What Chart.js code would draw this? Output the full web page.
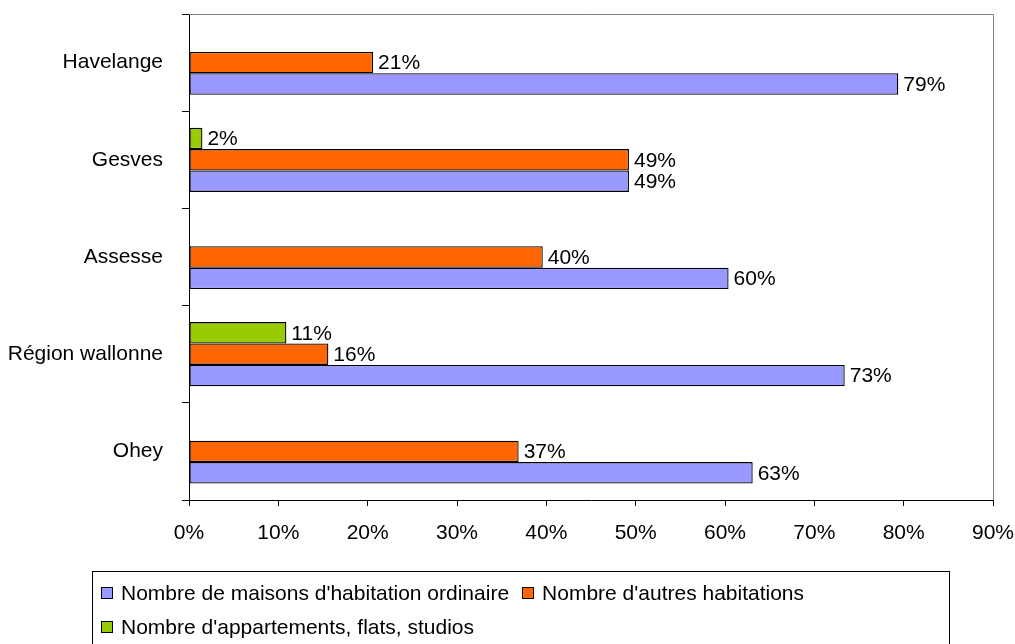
<!DOCTYPE html>
<html>
<head>
<meta charset="utf-8">
<script src="https://cdn.jsdelivr.net/npm/chart.js@4.4.0/dist/chart.umd.min.js"></script>
<style>
    body { margin: 0; background: #fff; font-family: "Liberation Sans", Arial, sans-serif; }
    #wrap { position: relative; width: 1015px; height: 644px; overflow: hidden; }
    #legende {
        position: absolute; left: 92px; top: 571px; width: 858px; height: 80px;
        border: 1px solid #000; box-sizing: border-box; padding-top: 4px;
        font-size: 21px; color: #000;
    }
    .ligne { display: flex; align-items: center; height: 34px; }
    .item { display: flex; align-items: center; margin-left: 8px; margin-right: 5px; }
    .carre { width: 10px; height: 10px; border: 1px solid #000; margin-right: 8px; }
</style>
</head>
<body>
<div id="wrap">
    <canvas id="graphique" width="1015" height="644"></canvas>
    <div id="legende"></div>
</div>
<script>
// Données (en %)
const communes = ['Havelange', 'Gesves', 'Assesse', 'Région wallonne', 'Ohey'];
const maisons = [79.4, 49.25, 60.4, 73.4, 63.1];
const autres = [20.6, 49.25, 39.6, 15.6, 36.9];
const appartements = [0, 1.5, 0, 10.9, 0];
const graduations = [0, 10, 20, 30, 40, 50, 60, 70, 80, 90];

const police = '"Liberation Sans", Arial, sans-serif';

const series = [
    { label: "Nombre de maisons d'habitation ordinaire", data: maisons, couleur: '#9999FF' },
    { label: "Nombre d'autres habitations", data: autres, couleur: '#FF6600' },
    { label: "Nombre d'appartements, flats, studios", data: appartements, couleur: '#99CC00' }
];

// Légende façon Excel
const legende = document.getElementById('legende');
[[series[0], series[1]], [series[2]]].forEach(groupe => {
    const ligne = document.createElement('div');
    ligne.className = 'ligne';
    groupe.forEach(s => {
        const item = document.createElement('div');
        item.className = 'item';
        item.innerHTML = `<span class="carre" style="background:${s.couleur}"></span><span>${s.label}</span>`;
        ligne.appendChild(item);
    });
    legende.appendChild(ligne);
});

// Cadre gris du haut et de droite
const cadre = {
    id: 'cadre',
    beforeDatasetsDraw(chart) {
        const { ctx, chartArea: a } = chart;
        ctx.save();
        ctx.strokeStyle = '#808080';
        ctx.lineWidth = 1;
        ctx.beginPath();
        ctx.moveTo(a.left, a.top + 0.5);
        ctx.lineTo(a.right + 0.5, a.top + 0.5);
        ctx.lineTo(a.right + 0.5, a.bottom);
        ctx.stroke();
        ctx.restore();
    }
};

// Étiquettes de valeurs à droite des barres
const etiquettes = {
    id: 'etiquettes',
    afterDatasetsDraw(chart) {
        const ctx = chart.ctx;
        ctx.save();
        ctx.font = '21px ' + police;
        ctx.fillStyle = '#000';
        ctx.textAlign = 'left';
        ctx.textBaseline = 'middle';
        chart.data.datasets.forEach((ds, i) => {
            chart.getDatasetMeta(i).data.forEach((barre, j) => {
                const v = ds.data[j];
                if (!v) return;
                ctx.fillText(Math.round(v) + '%', barre.x + 5, barre.y + 1);
            });
        });
        ctx.restore();
    }
};

// Ordre inverse pour avoir les appartements en haut de chaque groupe
const datasets = series.slice().reverse().map(s => ({
    label: s.label,
    data: s.data,
    backgroundColor: s.couleur,
    borderColor: '#000',
    borderWidth: 1.3,
    borderSkipped: false,
    barPercentage: 1,
    categoryPercentage: 0.66
}));

new Chart(document.getElementById('graphique'), {
    type: 'bar',
    data: { labels: communes, datasets: datasets },
    options: {
        indexAxis: 'y',
        responsive: false,
        animation: false,
        layout: { padding: { top: 14, right: 22, left: 0, bottom: 0 } },
        plugins: {
            legend: { display: false },
            tooltip: { enabled: false }
        },
        scales: {
            x: {
                min: 0,
                max: 90,
                afterFit: s => { s.height = 144; s.paddingLeft = 0; s.paddingRight = 0; },
                afterBuildTicks: s => { s.ticks = graduations.map(v => ({ value: v })); },
                grid: { drawOnChartArea: false, drawTicks: true, tickLength: 6, color: '#000' },
                border: { display: true, color: '#000', width: 1 },
                ticks: {
                    color: '#000',
                    padding: 15,
                    maxRotation: 0,
                    font: { family: police, size: 21 },
                    callback: v => v + '%'
                }
            },
            y: {
                afterFit: s => { s.width = 189; s.paddingTop = 0; s.paddingBottom = 0; },
                grid: { offset: true, drawOnChartArea: false, drawTicks: true, tickLength: 7, color: '#000' },
                border: { display: true, color: '#000', width: 1 },
                ticks: {
                    color: '#000',
                    padding: 19,
                    font: { family: police, size: 21 }
                }
            }
        }
    },
    plugins: [cadre, etiquettes]
});
</script>
</body>
</html>
